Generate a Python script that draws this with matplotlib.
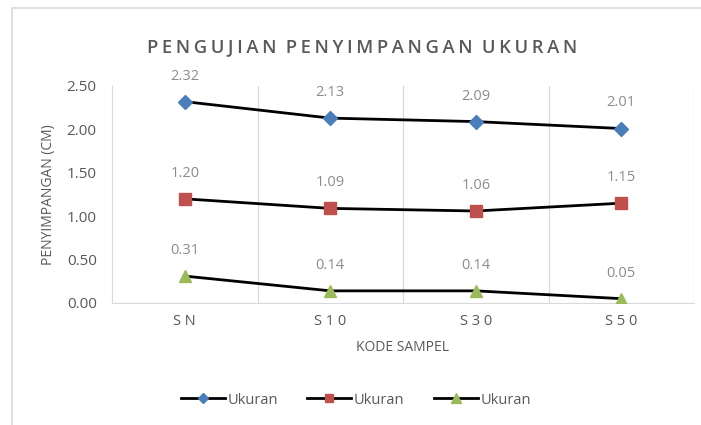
import matplotlib
matplotlib.use("Agg")
import matplotlib.pyplot as plt
from matplotlib.patches import Rectangle

categories = ["S N", "S 1 0", "S 3 0", "S 5 0"]
series_blue = [2.32, 2.13, 2.09, 2.01]
series_red = [1.20, 1.09, 1.06, 1.15]
series_green = [0.31, 0.14, 0.14, 0.05]
series_names = ["Ukuran", "Ukuran", "Ukuran"]
yticks = [0.0, 0.5, 1.0, 1.5, 2.0, 2.5]

plt.rcParams['font.family'] = ['Open Sans', 'DejaVu Sans']
fig = plt.figure(figsize=(7.01, 4.25), dpi=100)
fig.patches.append(Rectangle((12/701, -0.1), 1.2, 1 - 8/425 + 0.1, transform=fig.transFigure,
                             fill=False, edgecolor='#d9d9d9', linewidth=1.2))

ax = fig.add_axes([112/701, 1 - 303/425, (694 - 112)/701, (303 - 86)/425])
x = list(range(len(categories)))

styles = [
    (series_blue, 'D', '#4A7EBB', 7),
    (series_red, 's', '#C0504D', 8.5),
    (series_green, '^', '#9BBB59', 9),
]
for (vals, mk, col, ms), name in zip(styles, series_names):
    ax.plot(x, vals, color='black', linewidth=2, marker=mk, markersize=ms,
            markerfacecolor=col, markeredgecolor=col, label=name, zorder=3)
    for xi, v in zip(x, vals):
        ax.annotate(f"{v:.2f}", (xi, v), xytext=(0, 13), textcoords='offset points',
                    ha='center', va='bottom', fontsize=10.5, color='#8c8c8c')

ax.set_xlim(-0.5, len(categories) - 0.5)
ax.set_ylim(0, 2.5)
ax.set_yticks(yticks)
ax.set_yticklabels([f"{t:.2f}" for t in yticks], fontsize=11, color='#595959')
ax.set_xticks(x)
ax.set_xticklabels(categories, fontsize=10.5, color='#595959')
ax.tick_params(axis='both', length=0, pad=8)
ax.tick_params(axis='y', pad=11)

for b in [0.5, 1.5, 2.5, 3.5]:
    ax.axvline(b, color='#d9d9d9', linewidth=0.9, zorder=0)
for s in ['top', 'right']:
    ax.spines[s].set_visible(False)
ax.spines['left'].set_color('#d9d9d9')
ax.spines['bottom'].set_color('#d9d9d9')

ax.set_xlabel("KODE SAMPEL", fontsize=10, color='#595959', labelpad=8)
ax.set_ylabel("PENYIMPANGAN (CM)", fontsize=10, color='#595959', labelpad=8)

fig.text(362/701, 1 - 47/425, "P E N G U J I A N   P E N Y I M P A N G A N   U K U R A N".replace("   ", "\u2002").replace(" ", "\u2009"),
         ha='center', va='center', fontsize=13.2, color='#595959', fontweight='semibold')

leg = fig.legend(loc='center', bbox_to_anchor=(356/701, 1 - 400/425), ncol=3, frameon=False,
                 fontsize=10.5, labelcolor='#595959', handlelength=3, columnspacing=2,
                 handletextpad=0.2, markerscale=0.75)

fig.savefig("out.png", dpi=100)
